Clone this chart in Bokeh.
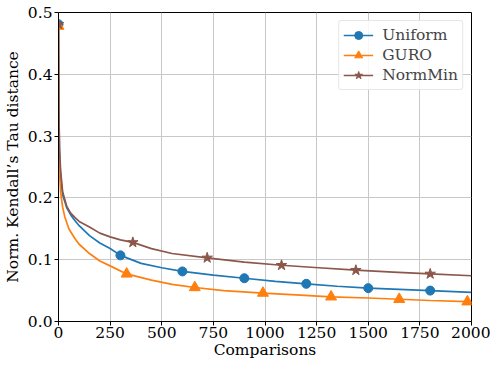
from bokeh.plotting import figure
from bokeh.models import Range1d, FixedTicker, Legend, LegendItem, CustomJSTickFormatter
from bokeh.embed import file_html
from bokeh.resources import INLINE

# ---- data ----
uniform_x = [0, 2, 5, 10, 20, 40, 60, 80, 100, 150, 200, 250, 300, 400, 500, 600, 750, 900, 1050, 1200, 1350, 1500, 1650, 1800, 2000]
uniform_y = [0.481, 0.33, 0.27, 0.235, 0.205, 0.184, 0.172, 0.163, 0.155, 0.139, 0.127, 0.118, 0.107, 0.094, 0.087, 0.081, 0.075, 0.070, 0.065, 0.061, 0.057, 0.054, 0.052, 0.050, 0.047]
uniform_marks = [0, 300, 600, 900, 1200, 1500, 1800]

guro_x = [0, 2, 5, 10, 20, 30, 50, 80, 100, 150, 200, 250, 330, 450, 550, 660, 800, 990, 1150, 1320, 1500, 1650, 1800, 1980, 2000]
guro_y = [0.478, 0.30, 0.24, 0.21, 0.185, 0.170, 0.150, 0.134, 0.125, 0.110, 0.098, 0.090, 0.077, 0.067, 0.060, 0.055, 0.050, 0.046, 0.043, 0.040, 0.038, 0.036, 0.034, 0.032, 0.032]
guro_marks = [0, 330, 660, 990, 1320, 1650, 1980]

normmin_x = [0, 2, 5, 10, 20, 40, 60, 80, 100, 150, 200, 250, 300, 360, 450, 550, 720, 900, 1080, 1260, 1440, 1620, 1800, 2000]
normmin_y = [0.481, 0.34, 0.28, 0.245, 0.21, 0.186, 0.175, 0.168, 0.162, 0.153, 0.143, 0.137, 0.132, 0.128, 0.118, 0.110, 0.103, 0.096, 0.091, 0.087, 0.083, 0.080, 0.077, 0.074]
normmin_marks = [0, 360, 720, 1080, 1440, 1800]

x_ticks = [0, 250, 500, 750, 1000, 1250, 1500, 1750, 2000]
y_ticks = [0.0, 0.1, 0.2, 0.3, 0.4, 0.5]

FONT = "'DejaVu Serif', 'Liberation Serif', serif"
FS = "15.5px"

p = figure(width=490, height=361, output_backend="svg", toolbar_location=None,
           x_range=Range1d(0, 2000), y_range=Range1d(0, 0.5),
           min_border_left=57, min_border_right=19, min_border_top=12, min_border_bottom=40)
p.outline_line_color = "black"
p.outline_line_width = 1
p.background_fill_color = "white"

for ax in (p.xaxis[0], p.yaxis[0]):
    ax.major_label_text_font = FONT
    ax.major_label_text_font_size = FS
    ax.major_label_text_color = "black"
    ax.axis_label_text_font = FONT
    ax.axis_label_text_font_size = FS
    ax.axis_label_text_font_style = "normal"
    ax.axis_label_text_color = "black"
    ax.minor_tick_line_color = None
    ax.major_tick_out = 4
    ax.major_tick_in = 0
    ax.axis_line_color = "black"
    ax.major_tick_line_color = "black"

p.xaxis.ticker = FixedTicker(ticks=x_ticks)
p.yaxis.ticker = FixedTicker(ticks=y_ticks)
p.yaxis.formatter = CustomJSTickFormatter(code="return tick.toFixed(1);")
p.xaxis.axis_label = "Comparisons"
p.yaxis.axis_label = "Norm. Kendall\u2019s Tau distance"
p.xaxis.axis_label_standoff = 0
p.yaxis.axis_label_standoff = 3
p.xaxis.major_label_standoff = 1
p.yaxis.major_label_standoff = 2

p.grid.grid_line_color = "#c8c8c8"
p.grid.grid_line_width = 1

def pick(xs, ys, marks):
    return [x for x in xs if x in marks], [y for x, y in zip(xs, ys) if x in marks]

items = []
series = [
    ("Uniform", uniform_x, uniform_y, uniform_marks, "#1f77b4", "circle", 9),
    ("GURO", guro_x, guro_y, guro_marks, "#ff7f0e", "triangle", 11),
    ("NormMin", normmin_x, normmin_y, normmin_marks, "#8c564b", "star", 11),
]
for name, xs, ys, marks, col, mk, sz in series:
    r1 = p.line(xs, ys, line_color=col, line_width=1.7)
    mx, my = pick(xs, ys, marks)
    r2 = p.scatter(mx, my, marker=mk, size=sz, fill_color=col, line_color=col)
    items.append(LegendItem(label=name, renderers=[r1, r2]))

legend = Legend(items=items, location="top_right")
legend.label_text_font = FONT
legend.label_text_font_size = FS
legend.border_line_color = "#d0d0d0"
legend.border_line_width = 1
legend.border_radius = 3
legend.margin = 8
legend.padding = 4
legend.spacing = 0
legend.glyph_width = 30
legend.label_standoff = 9
legend.background_fill_alpha = 0.85
p.add_layout(legend)

open("out.html", "w").write(file_html(p, INLINE))
